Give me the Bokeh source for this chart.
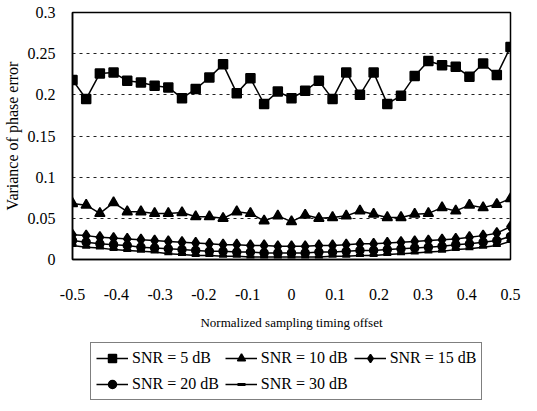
from bokeh.plotting import figure
from bokeh.models import Range1d, FixedTicker, Legend, LegendItem
from bokeh.layouts import column
from bokeh.embed import file_html
from bokeh.resources import INLINE

# x positions: 33 equally spaced sampling offsets
x_offsets = [-0.5 + k / 32 for k in range(33)]

snr5 = [0.218, 0.195, 0.226, 0.227, 0.217, 0.215, 0.211, 0.209, 0.196, 0.207, 0.221,
        0.237, 0.202, 0.220, 0.189, 0.204, 0.196, 0.205, 0.217, 0.195, 0.227, 0.200,
        0.227, 0.189, 0.199, 0.223, 0.241, 0.236, 0.234, 0.222, 0.238, 0.224, 0.258]
snr10 = [0.068, 0.066, 0.056, 0.069, 0.058, 0.058, 0.056, 0.056, 0.057, 0.052, 0.052,
         0.050, 0.058, 0.056, 0.047, 0.053, 0.046, 0.054, 0.050, 0.051, 0.053, 0.059,
         0.055, 0.051, 0.051, 0.055, 0.056, 0.063, 0.059, 0.066, 0.063, 0.067, 0.074]
snr15 = [0.030, 0.029, 0.027, 0.026, 0.025, 0.024, 0.023, 0.022, 0.021, 0.020, 0.019,
         0.018, 0.018, 0.017, 0.017, 0.016, 0.016, 0.016, 0.017, 0.017, 0.018, 0.019,
         0.019, 0.020, 0.021, 0.022, 0.023, 0.024, 0.025, 0.027, 0.029, 0.032, 0.040]
snr20 = [0.023, 0.021, 0.019, 0.018, 0.017, 0.015, 0.014, 0.013, 0.012, 0.011, 0.010,
         0.010, 0.009, 0.009, 0.008, 0.008, 0.008, 0.008, 0.009, 0.009, 0.010, 0.011,
         0.011, 0.012, 0.013, 0.014, 0.015, 0.016, 0.018, 0.019, 0.021, 0.023, 0.028]
snr30 = [0.017, 0.015, 0.014, 0.012, 0.011, 0.010, 0.009, 0.007, 0.006, 0.005, 0.005,
         0.004, 0.004, 0.003, 0.003, 0.003, 0.003, 0.003, 0.003, 0.004, 0.004, 0.005,
         0.005, 0.006, 0.007, 0.008, 0.009, 0.010, 0.012, 0.013, 0.015, 0.017, 0.022]

series_names = ["SNR = 5 dB", "SNR = 10 dB", "SNR = 15 dB", "SNR = 20 dB", "SNR = 30 dB"]

x_ticks = [-0.5, -0.4, -0.3, -0.2, -0.1, 0.0, 0.1, 0.2, 0.3, 0.4, 0.5]
x_tick_labels = ["-0.5", "-0.4", "-0.3", "-0.2", "-0.1", "0", "0.1", "0.2", "0.3", "0.4", "0.5"]
y_ticks = [0.0, 0.05, 0.1, 0.15, 0.2, 0.25, 0.3]
y_tick_labels = ["0", "0.05", "0.1", "0.15", "0.2", "0.25", "0.3"]

FONT = "Liberation Serif"

p = figure(width=521, height=338, output_backend="svg", toolbar_location=None,
           x_range=Range1d(-0.5, 0.5), y_range=Range1d(0, 0.3),
           min_border_left=64, min_border_right=11, min_border_top=12, min_border_bottom=79)

p.background_fill_color = "white"
p.border_fill_color = "white"
p.outline_line_color = "black"
p.outline_line_width = 1.5

p.xgrid.grid_line_color = None
p.ygrid.grid_line_color = "#222222"
p.ygrid.grid_line_dash = "3 4"
p.ygrid.grid_line_width = 1

p.xaxis.ticker = FixedTicker(ticks=x_ticks)
p.yaxis.ticker = FixedTicker(ticks=y_ticks)
p.xaxis.major_label_overrides = dict(zip(x_ticks, x_tick_labels))
p.yaxis.major_label_overrides = dict(zip(y_ticks, y_tick_labels))

for ax in (p.xaxis, p.yaxis):
    ax.axis_line_color = "black"
    ax.axis_line_width = 1.5
    ax.major_tick_line_color = None
    ax.minor_tick_line_color = None
    ax.major_label_text_font = FONT
    ax.major_label_text_color = "black"
    ax.major_label_text_font_size = "16px"
    ax.axis_label_text_font = FONT
    ax.axis_label_text_font_style = "normal"
    ax.axis_label_text_color = "black"

p.xaxis.major_label_standoff = 23
p.xaxis.axis_label = "Normalized sampling timing offset"
p.xaxis.axis_label_text_font_size = "13px"
p.xaxis.axis_label_standoff = 12

p.yaxis.major_label_standoff = 11
p.yaxis.axis_label = "Variance of phase error"
p.yaxis.axis_label_text_font_size = "16px"
p.yaxis.axis_label_standoff = 4

all_series = [snr5, snr10, snr15, snr20, snr30]
markers = ["square", "triangle", "diamond", "circle", "dash"]
sizes = [9, 10, 11, 8, 8]
widths = [1.5, 1.5, 1.5, 1.5, 3]

for ys, m, s, w in zip(all_series, markers, sizes, widths):
    p.line(x_offsets, ys, line_color="black", line_width=1.5)
    p.scatter(x_offsets, ys, marker=m, size=s, fill_color="black",
              line_color="black", line_width=w)

# Legend strip: a second figure whose view range lies away from the data,
# so only its legend is visible.
lg = figure(width=521, height=66, output_backend="svg", toolbar_location=None,
            x_range=Range1d(10, 11), y_range=Range1d(10, 11),
            x_axis_type=None, y_axis_type=None,
            min_border_left=0, min_border_right=0, min_border_top=0, min_border_bottom=0)
lg.outline_line_color = None
lg.grid.grid_line_color = None
lg.background_fill_color = "white"
lg.border_fill_color = "white"

items = []
for name, ys, m, s, w in zip(series_names, all_series, markers, sizes, widths):
    ln = lg.line(x_offsets, ys, line_color="black", line_width=1.5)
    sc = lg.scatter(x_offsets, ys, marker=m, size=s, fill_color="black",
                    line_color="black", line_width=w)
    items.append(LegendItem(label=name, renderers=[ln, sc]))

legend = Legend(items=items, location=(18, 4), orientation="horizontal", ncols=3)
legend.label_text_font = FONT
legend.label_text_font_size = "16px"
legend.label_text_color = "black"
legend.border_line_color = "black"
legend.border_line_width = 1.5
legend.background_fill_alpha = 1
legend.glyph_width = 32
legend.glyph_height = 20
legend.label_standoff = 4
legend.spacing = 6
legend.padding = 5
legend.margin = 0
legend.label_height = 20
lg.add_layout(legend, "center")

layout = column(p, lg, spacing=0)
open("out.html", "w").write(file_html(layout, INLINE))
